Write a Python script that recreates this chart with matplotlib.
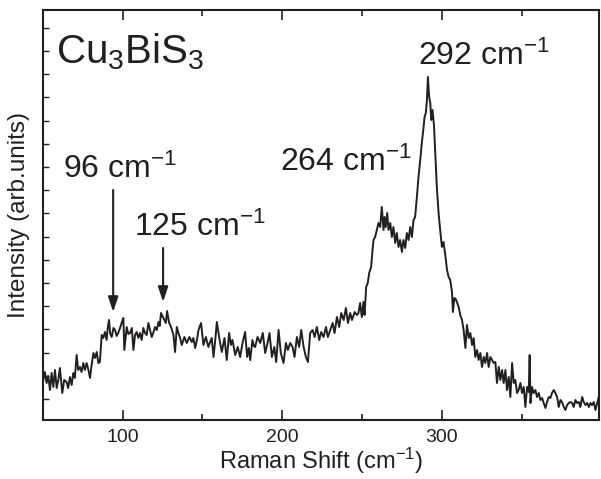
import matplotlib
matplotlib.use("Agg")
import matplotlib.pyplot as plt
from matplotlib.ticker import MultipleLocator

plt.rcParams['font.family'] = ['Liberation Sans', 'DejaVu Sans']
plt.rcParams['mathtext.fontset'] = 'custom'
plt.rcParams['mathtext.rm'] = 'Liberation Sans'
plt.rcParams['mathtext.it'] = 'Liberation Sans'
plt.rcParams['mathtext.default'] = 'regular'

# Raman spectrum (shift in cm^-1, intensity in arb. units)
shift = [50.2, 51.2, 52.3, 53.3, 54.4, 55.4, 56.5, 57.5, 58.6, 59.6, 60.6, 62.1, 63.3, 64.8, 65.8,
         66.9, 68.0, 69.0, 70.0, 71.1, 72.1, 73.2, 74.2, 75.3, 76.3, 77.4, 78.5, 79.5, 80.5, 81.6,
         82.6, 83.7, 84.7, 85.7, 86.8, 87.8, 88.9, 89.9, 90.6, 91.4, 92.2, 93.1, 94.2, 95.2, 96.2,
         97.2, 98.3, 99.3, 100.4, 101.0, 102.5, 103.5, 104.6, 105.7, 106.7, 107.7, 108.7, 109.8, 110.8, 111.9,
         112.9, 114.0, 115.0, 116.1, 117.1, 118.2, 119.3, 120.3, 121.4, 122.4, 123.2, 124.0, 125.5, 127.0, 127.8,
         129.1, 130.3, 131.8, 132.8, 133.9, 134.9, 136.0, 137.0, 138.7, 140.1, 141.8, 143.3, 144.3, 145.4, 146.5,
         147.5, 149.1, 150.6, 152.1, 153.7, 154.8, 155.8, 156.9, 158.0, 159.0, 160.4, 162.1, 163.8, 165.2, 166.7,
         167.8, 168.8, 170.5, 172.1, 173.6, 175.1, 176.7, 178.0, 179.0, 179.9, 181.3, 182.2, 183.0, 184.5, 186.2,
         187.8, 189.3, 190.8, 192.0, 193.5, 195.0, 196.2, 197.7, 199.1, 200.8, 202.3, 203.5, 205.0, 206.5, 207.7,
         209.2, 210.6, 211.9, 213.4, 214.8, 216.1, 217.5, 219.0, 220.3, 221.7, 223.2, 224.4, 225.9, 227.4, 228.6,
         230.1, 231.6, 232.8, 234.3, 235.7, 237.0, 238.5, 239.9, 241.2, 242.6, 243.7, 245.4, 246.8, 247.8, 248.8,
         249.9, 250.9, 251.6, 252.6, 253.6, 254.5, 255.7, 256.6, 257.2, 258.2, 259.3, 260.3, 261.4, 262.4, 263.5,
         264.1, 264.9, 265.8, 266.6, 267.7, 268.7, 269.7, 270.8, 271.8, 272.9, 273.9, 275.0, 276.0, 277.1, 278.1,
         279.2, 280.2, 281.3, 282.3, 283.3, 284.4, 285.4, 286.5, 287.5, 288.6, 289.2, 290.0, 290.7, 291.3, 292.1,
         292.8, 293.4, 294.2, 295.1, 295.9, 296.9, 298.0, 299.0, 300.1, 301.1, 302.2, 303.3, 304.3, 305.3, 306.4,
         307.0, 307.9, 308.7, 309.5, 310.6, 311.6, 312.7, 313.7, 314.8, 315.8, 316.9, 317.9, 319.0, 320.0, 321.0,
         322.1, 323.1, 324.2, 325.2, 326.3, 327.3, 328.4, 329.4, 330.5, 331.5, 332.6, 333.6, 334.6, 335.7, 336.7,
         337.8, 338.8, 339.9, 340.9, 342.0, 343.0, 344.1, 345.1, 346.1, 347.2, 348.2, 349.3, 350.3, 351.4, 352.4,
         353.5, 354.5, 355.1, 355.6, 356.6, 357.6, 358.7, 359.7, 360.8, 361.8, 362.9, 363.9, 365.0, 366.0, 367.1,
         368.1, 369.1, 370.2, 371.2, 372.3, 373.3, 374.4, 375.4, 376.5, 377.5, 378.6, 379.6, 380.6, 381.7, 382.7,
         383.8, 384.8, 385.9, 386.9, 388.0, 389.0, 390.1, 391.1, 392.2, 393.2, 394.2, 395.3, 396.3, 397.4, 398.4]
intensity = [20, 28, 17, 24, 10, 27, 13, 30, 12, 20, 32, 7, 20, 18, 12,
             23, 15, 27, 22, 45, 30, 33, 28, 37, 30, 37, 30, 22, 35, 47,
             42, 48, 37, 38, 65, 62, 68, 60, 72, 80, 66, 63, 72, 70, 64,
             67, 72, 77, 82, 50, 73, 66, 67, 72, 50, 65, 68, 62, 67, 60,
             72, 67, 65, 77, 70, 63, 68, 73, 70, 78, 74, 87, 82, 77, 89,
             77, 73, 65, 48, 73, 67, 62, 55, 63, 57, 63, 58, 62, 52, 60,
             70, 77, 55, 63, 53, 58, 62, 43, 60, 78, 63, 48, 62, 40, 67,
             55, 60, 45, 53, 43, 57, 68, 43, 52, 40, 60, 54, 53, 63, 57,
             67, 47, 57, 67, 43, 53, 38, 70, 47, 37, 57, 50, 57, 53, 43,
             63, 53, 70, 53, 43, 38, 67, 70, 63, 73, 60, 68, 63, 73, 63,
             70, 77, 67, 83, 73, 87, 80, 92, 77, 87, 80, 88, 85, 87, 97,
             83, 98, 85, 113, 117, 127, 133, 150, 160, 163, 170, 177, 173, 193, 170,
             183, 173, 187, 170, 177, 163, 173, 157, 167, 153, 160, 148, 160, 152, 167,
             160, 173, 163, 180, 183, 203, 223, 240, 257, 273, 283, 287, 300, 323, 303,
             297, 280, 290, 275, 247, 213, 187, 170, 153, 158, 145, 130, 123, 120, 108,
             88, 102, 101, 98, 93, 85, 80, 70, 52, 75, 62, 67, 55, 62, 43,
             50, 40, 47, 33, 43, 37, 47, 33, 43, 40, 37, 38, 17, 33, 20,
             30, 17, 30, 10, 23, 3, 37, 17, 20, 7, 10, 17, 7, 13, -7,
             13, 8, 45, -3, 13, 7, 10, 3, 7, 0, 2, -3, -8, -2, 3,
             2, 7, 10, 7, 3, -7, 0, -2, -7, -10, -5, -3, -2, -3, -7,
             0, -3, -2, -7, 3, -2, -5, -3, -7, -3, -5, -2, -10, -3, 3]

# peak labels: text, text position, arrow (x, tail y, head y)
peak_labels = ['96 cm$^{-1}$', '125 cm$^{-1}$', '264 cm$^{-1}$', '292 cm$^{-1}$']
label_x = [62.5, 107, 198.5, 285]
label_y = [222, 164, 229, 335]
arrow_x = [94, 125.3]
arrow_tail = [210, 152]
arrow_head = [88, 98]

ink = '#231f20'

fig = plt.figure(figsize=(6.01, 4.79), dpi=100)
ax = fig.add_axes([0.0715, 0.1242, 0.925, 0.855])

ax.plot(shift, intensity, color=ink, lw=1.4)

for txt, tx, ty in zip(peak_labels, label_x, label_y):
    ax.text(tx, ty, txt, fontsize=23, color=ink, ha='left', va='baseline')

for axx, t0, t1 in zip(arrow_x, arrow_tail, arrow_head):
    ax.annotate('', xy=(axx, t1), xytext=(axx, t0),
                arrowprops=dict(arrowstyle='-|>,head_length=0.9,head_width=0.3',
                                color=ink, lw=1.5, shrinkA=0, shrinkB=0))

ax.text(58, 337, 'Cu$_3$BiS$_3$', fontsize=29, color=ink, ha='left', va='baseline')

ax.set_xlim(50, 398.5)
ax.set_ylim(-19.5, 390)

ax.xaxis.set_major_locator(MultipleLocator(100))
ax.xaxis.set_minor_locator(MultipleLocator(50))
ax.yaxis.set_major_locator(MultipleLocator(23.2, offset=1))

ax.tick_params(axis='x', which='both', direction='in', top=True, bottom=True,
               color=ink, labelsize=14, labelcolor=ink, pad=7)
ax.tick_params(axis='x', which='major', length=7, width=1.2)
ax.tick_params(axis='x', which='minor', length=4, width=1.2)
ax.tick_params(axis='y', which='both', direction='in', left=True, right=False,
               labelleft=False, length=4, width=1, color=ink)

for s in ax.spines.values():
    s.set_linewidth(1.5)
    s.set_color(ink)

ax.set_xlabel('Raman Shift (cm$^{-1}$)', fontsize=17, color=ink, labelpad=0)
ax.set_ylabel('Intensity (arb.units)', fontsize=17.5, color=ink, labelpad=9)

fig.savefig('out.png', dpi=100)
